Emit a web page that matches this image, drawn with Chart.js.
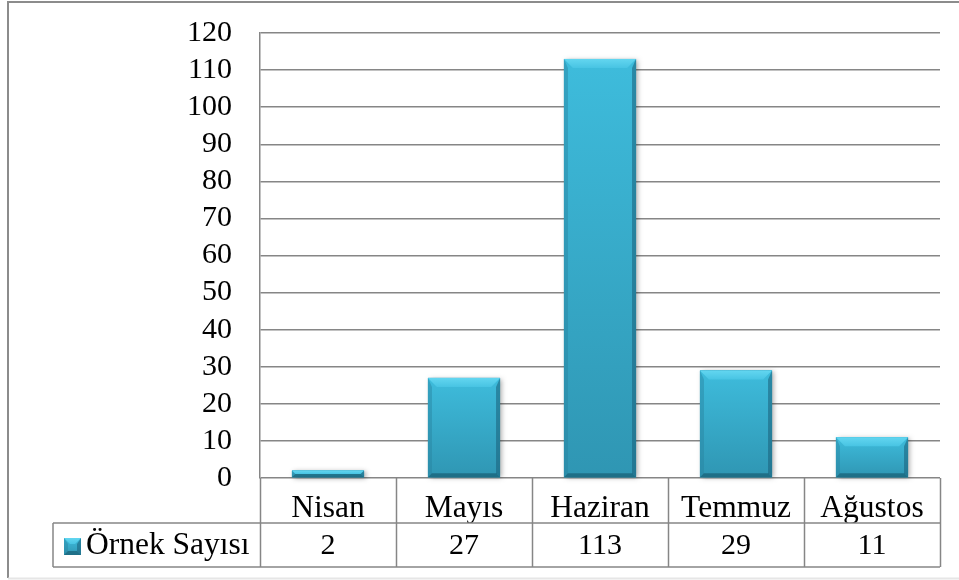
<!DOCTYPE html>
<html><head><meta charset="utf-8">
<script src="https://cdn.jsdelivr.net/npm/chart.js@4.4.1/dist/chart.umd.min.js"></script>
<style>html,body{margin:0;padding:0;background:#fff}#wrap{width:959px;height:580px;position:relative}</style>
</head><body><div id="wrap"><canvas id="c" width="959" height="580"></canvas></div>
<script>
const categories = ['Nisan', 'Mayıs', 'Haziran', 'Temmuz', 'Ağustos'];
const seriesName = 'Örnek Sayısı';
const values = [2, 27, 113, 29, 11];
const yMin = 0, yMax = 120, yStep = 10;

const FONT = '"Liberation Serif", "Times New Roman", serif';
const GRID = '#868686';

function bevelBar(ctx, L, T, R, B, bt) {
  const h = B - T;
  const b = Math.min(bt, h / 2);
  const bs = Math.min(4, h / 2);
  const g = ctx.createLinearGradient(0, T, 0, B);
  g.addColorStop(0, '#3ebcdc');
  g.addColorStop(1, '#2f96b3');
  ctx.fillStyle = g;
  ctx.fillRect(L, T, R - L, h);
  ctx.beginPath();
  ctx.moveTo(L, T); ctx.lineTo(R, T); ctx.lineTo(R - b, T + b); ctx.lineTo(L + b, T + b); ctx.closePath();
  const gt = ctx.createLinearGradient(0, T, 0, T + b);
  gt.addColorStop(0, '#63d6f0'); gt.addColorStop(1, '#48c4e3');
  ctx.fillStyle = gt; ctx.fill();
  ctx.beginPath();
  ctx.moveTo(L, T); ctx.lineTo(L + bs, T + b); ctx.lineTo(L + bs, B - bs); ctx.lineTo(L, B); ctx.closePath();
  ctx.fillStyle = 'rgba(40,130,160,0.45)'; ctx.fill();
  ctx.beginPath();
  ctx.moveTo(R, T); ctx.lineTo(R, B); ctx.lineTo(R - bs, B - bs); ctx.lineTo(R - bs, T + b); ctx.closePath();
  ctx.fillStyle = 'rgba(25,95,120,0.55)'; ctx.fill();
  ctx.beginPath();
  ctx.moveTo(L, B); ctx.lineTo(R, B); ctx.lineTo(R - bs, B - bs); ctx.lineTo(L + bs, B - bs); ctx.closePath();
  ctx.fillStyle = 'rgba(20,85,105,0.6)'; ctx.fill();
}

const framePlugin = {
  id: 'frame',
  beforeDraw(chart) {
    const ctx = chart.ctx;
    ctx.save();
    ctx.strokeStyle = '#8c8c8c';
    ctx.lineWidth = 2;
    ctx.beginPath();
    ctx.moveTo(8, 578); ctx.lineTo(8, 2); ctx.lineTo(959, 2);
    ctx.stroke();
    ctx.strokeStyle = '#e6e6e6';
    ctx.beginPath(); ctx.moveTo(8, 578.5); ctx.lineTo(959, 578.5); ctx.stroke();
    ctx.restore();
  }
};

const barPlugin = {
  id: 'bevel',
  afterDatasetsDraw(chart) {
    const ctx = chart.ctx;
    const meta = chart.getDatasetMeta(0);
    ctx.save();
    meta.data.forEach(el => {
      const p = el.getProps(['x', 'y', 'base', 'width'], true);
      const L = p.x - p.width / 2, R = p.x + p.width / 2;
      ctx.save();
      ctx.shadowColor = 'rgba(0,0,0,0.35)';
      ctx.shadowBlur = 5;
      ctx.shadowOffsetX = 2;
      ctx.shadowOffsetY = 1;
      ctx.fillStyle = '#2f96b3';
      ctx.fillRect(L, p.y, R - L, p.base - p.y);
      ctx.restore();
      bevelBar(ctx, L, p.y, R, p.base, 9);
    });
    ctx.restore();
  }
};

const tablePlugin = {
  id: 'dataTable',
  afterDraw(chart) {
    const ctx = chart.ctx;
    const xs = chart.scales.x;
    const area = chart.chartArea;
    const half = (xs.getPixelForValue(1) - xs.getPixelForValue(0)) / 2;
    const top = area.bottom;
    const r1 = xs.bottom;
    const r2 = r1 + 44;
    const legendLeft = 53;
    ctx.save();
    ctx.strokeStyle = GRID;
    ctx.lineWidth = 1.5;
    ctx.beginPath();
    for (let i = 0; i <= categories.length; i++) {
      const x = Math.round(xs.getPixelForValue(i) - half) + 0.5;
      ctx.moveTo(x, top); ctx.lineTo(x, r2);
    }
    ctx.moveTo(legendLeft, r1); ctx.lineTo(area.right, r1);
    ctx.moveTo(legendLeft, r2); ctx.lineTo(area.right, r2);
    ctx.moveTo(legendLeft, r1); ctx.lineTo(legendLeft, r2);
    ctx.stroke();
    const mid = (r1 + r2) / 2 + 1;
    const kL = 64, kT = mid - 8, kS = 17;
    bevelBar(ctx, kL, kT, kL + kS, kT + kS, 6);
    ctx.fillStyle = '#000';
    ctx.font = '30px ' + FONT;
    ctx.textAlign = 'center';
    ctx.textBaseline = 'middle';
    values.forEach((v, i) => {
      ctx.fillText(String(v), xs.getPixelForValue(i), mid);
    });
    ctx.font = '31.5px ' + FONT;
    ctx.textAlign = 'left';
    ctx.fillText(seriesName, 86, mid);
    ctx.restore();
  }
};

new Chart(document.getElementById('c'), {
  type: 'bar',
  data: {
    labels: categories,
    datasets: [{
      label: seriesName,
      data: values,
      backgroundColor: '#38acce',
      borderWidth: 0,
      barPercentage: 0.53,
      categoryPercentage: 1.0
    }]
  },
  options: {
    responsive: false,
    animation: false,
    events: [],
    layout: { padding: { left: 0, top: 33, right: 19, bottom: 57 } },
    plugins: { legend: { display: false }, tooltip: { enabled: false } },
    scales: {
      x: {
        offset: true,
        grid: { display: false },
        border: { display: false },
        ticks: {
          color: '#000',
          font: { family: FONT, size: 31.5 },
          padding: 4,
          maxRotation: 0,
          autoSkip: false
        },
        afterFit(scale) { scale.height = 45; }
      },
      y: {
        min: yMin,
        max: yMax,
        grid: { color: GRID, lineWidth: 1.5, drawTicks: false },
        border: { display: true, color: GRID, width: 1.5 },
        ticks: {
          stepSize: yStep,
          autoSkip: false,
          color: '#000',
          font: { family: FONT, size: 30 },
          padding: 28
        },
        afterFit(scale) { scale.width = 260; scale.paddingTop = 18; scale.paddingBottom = 18; }
      }
    }
  },
  plugins: [framePlugin, barPlugin, tablePlugin]
});
</script>
</body></html>
